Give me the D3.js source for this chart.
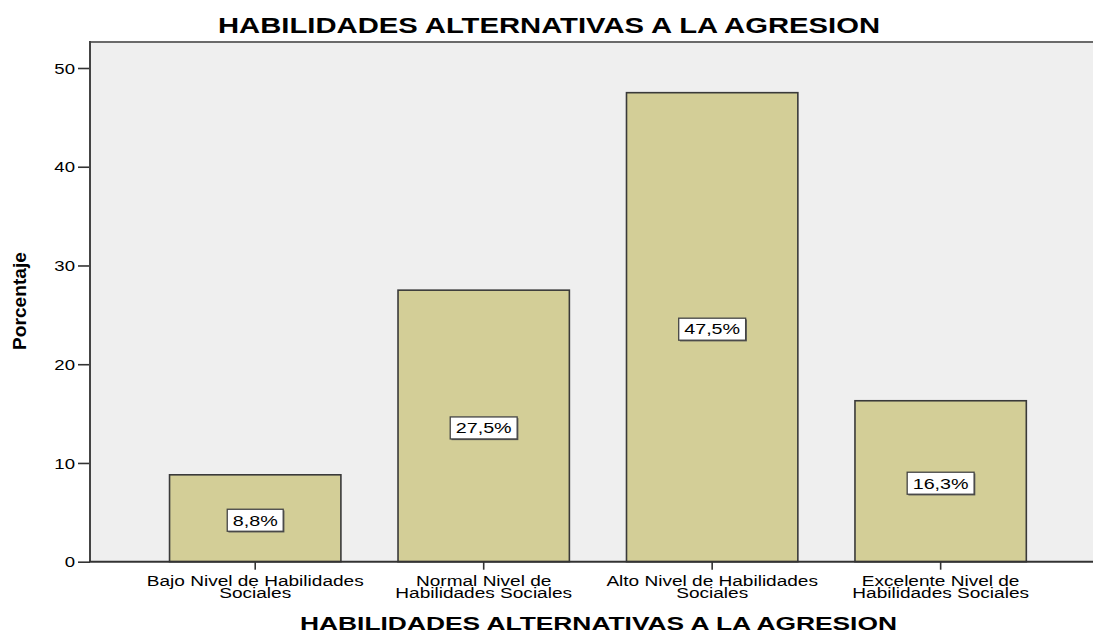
<!DOCTYPE html>
<html>
<head>
<meta charset="utf-8">
<script src="https://cdn.jsdelivr.net/npm/d3@7"></script>
<style>
  html, body { margin: 0; padding: 0; background: #fff; }
  svg { display: block; }
  text { font-family: "Liberation Sans", Arial, sans-serif; fill: #000; }
</style>
</head>
<body>
<svg id="chart" width="1093" height="635"></svg>
<script>
const categories = [
  ["Bajo Nivel de Habilidades", "Sociales"],
  ["Normal Nivel de", "Habilidades Sociales"],
  ["Alto Nivel de Habilidades", "Sociales"],
  ["Excelente Nivel de", "Habilidades Sociales"]
];
const values = [8.8, 27.5, 47.5, 16.3];
const valueLabels = ["8,8%", "27,5%", "47,5%", "16,3%"];
const yTicks = [0, 10, 20, 30, 40, 50];
const title = "HABILIDADES ALTERNATIVAS A LA AGRESION";
const xTitle = "HABILIDADES ALTERNATIVAS A LA AGRESION";
const yTitle = "Porcentaje";

const W = 1093, H = 635;
const plot = { left: 90, right: 1093, top: 42, bottom: 561.7 };

const svg = d3.select("#chart");

function stretch(sel, factor) {
  sel.each(function () {
    const len = this.getComputedTextLength();
    d3.select(this).attr("textLength", len * factor).attr("lengthAdjust", "spacingAndGlyphs");
  });
  return sel;
}

const x = d3.scaleBand()
  .domain(d3.range(categories.length))
  .range([plot.left, plot.right])
  .paddingInner(0.25)
  .paddingOuter(0.32)
  .align(0.544);

const y = d3.scaleLinear()
  .domain([0, (plot.bottom - plot.top) / ((plot.bottom - 68) / 50)])
  .range([plot.bottom, plot.top]);

// plot background
svg.append("rect")
  .attr("x", plot.left).attr("y", plot.top)
  .attr("width", plot.right - plot.left).attr("height", plot.bottom - plot.top)
  .attr("fill", "#efefef");

// top border
svg.append("line")
  .attr("x1", plot.left).attr("x2", plot.right)
  .attr("y1", plot.top).attr("y2", plot.top)
  .attr("stroke", "#6a6a6a").attr("stroke-width", 2);

// bars
svg.append("g").selectAll("rect")
  .data(values)
  .join("rect")
  .attr("x", (d, i) => x(i))
  .attr("y", d => y(d))
  .attr("width", x.bandwidth())
  .attr("height", d => y(0) - y(d))
  .attr("fill", "#d3ce97")
  .attr("stroke", "#3a3a3a")
  .attr("stroke-width", 1.6);

// y axis
const yAxis = svg.append("g")
  .attr("transform", `translate(${plot.left},0)`)
  .call(d3.axisLeft(y).tickValues(yTicks).tickSize(12).tickPadding(3).tickFormat(d3.format("d")));
yAxis.select(".domain").remove();
yAxis.selectAll(".tick line").attr("stroke", "#333").attr("stroke-width", 1.6);
yAxis.selectAll(".tick text")
  .attr("font-size", 14.5).attr("font-family", "Liberation Sans, Arial, sans-serif")
  .attr("fill", "#222").attr("dy", "0.36em");
stretch(yAxis.selectAll(".tick text"), 1.28);
svg.append("line")
  .attr("x1", plot.left).attr("x2", plot.left)
  .attr("y1", plot.top - 1).attr("y2", plot.bottom)
  .attr("stroke", "#444").attr("stroke-width", 2);

// x axis
const xAxis = svg.append("g")
  .attr("transform", `translate(0,${plot.bottom})`)
  .call(d3.axisBottom(x).tickSize(8).tickFormat(""));
xAxis.select(".domain").remove();
xAxis.selectAll(".tick line").attr("stroke", "#333").attr("stroke-width", 1.6);
svg.append("line")
  .attr("x1", plot.left - 1).attr("x2", plot.right)
  .attr("y1", plot.bottom).attr("y2", plot.bottom)
  .attr("stroke", "#333").attr("stroke-width", 2);

// category labels (one text element per category, stretched horizontally)
const catG = svg.append("g");
categories.forEach((lines, i) => {
  const t = catG.append("text")
    .attr("transform", `translate(${x(i) + x.bandwidth() / 2},0) scale(1.36,1)`)
    .attr("text-anchor", "middle")
    .attr("font-size", 14)
    .attr("fill", "#111");
  lines.forEach((ln, j) => {
    t.append("tspan").attr("x", 0).attr("y", 586 + j * 12.5).text(ln);
  });
});

// value labels in boxes
const lblG = svg.append("g");
values.forEach((v, i) => {
  const cx = x(i) + x.bandwidth() / 2;
  const cy = y(v / 2) + 2;
  const g = lblG.append("g");
  const t = g.append("text")
    .attr("x", cx).attr("y", cy + 5.3)
    .attr("text-anchor", "middle")
    .attr("font-size", 14.5)
    .text(valueLabels[i]);
  const natural = t.node().getComputedTextLength();
  t.attr("textLength", natural * 1.36).attr("lengthAdjust", "spacingAndGlyphs");
  const w = natural * 1.36 + 11;
  const h = 22;
  g.insert("rect", "text")
    .attr("x", cx - w / 2 + 1.2).attr("y", cy - h / 2 + 1.2)
    .attr("width", w).attr("height", h)
    .attr("fill", "#555");
  g.insert("rect", "text")
    .attr("x", cx - w / 2).attr("y", cy - h / 2)
    .attr("width", w).attr("height", h)
    .attr("fill", "#fff").attr("stroke", "#444").attr("stroke-width", 1.3);
});

// title
svg.append("text")
  .attr("x", 549).attr("y", 32.7)
  .attr("text-anchor", "middle")
  .attr("font-size", 22).attr("font-weight", "bold")
  .attr("textLength", 662).attr("lengthAdjust", "spacingAndGlyphs")
  .text(title);

// x title
svg.append("text")
  .attr("x", 598.5).attr("y", 630)
  .attr("text-anchor", "middle")
  .attr("font-size", 18.5).attr("font-weight", "bold")
  .attr("textLength", 597).attr("lengthAdjust", "spacingAndGlyphs")
  .text(xTitle);

// y title
svg.append("text")
  .attr("transform", "translate(26,301) rotate(-90)")
  .attr("text-anchor", "middle")
  .attr("font-size", 18).attr("font-weight", "bold")
  .attr("textLength", 98).attr("lengthAdjust", "spacingAndGlyphs")
  .text(yTitle);
</script>
</body>
</html>
